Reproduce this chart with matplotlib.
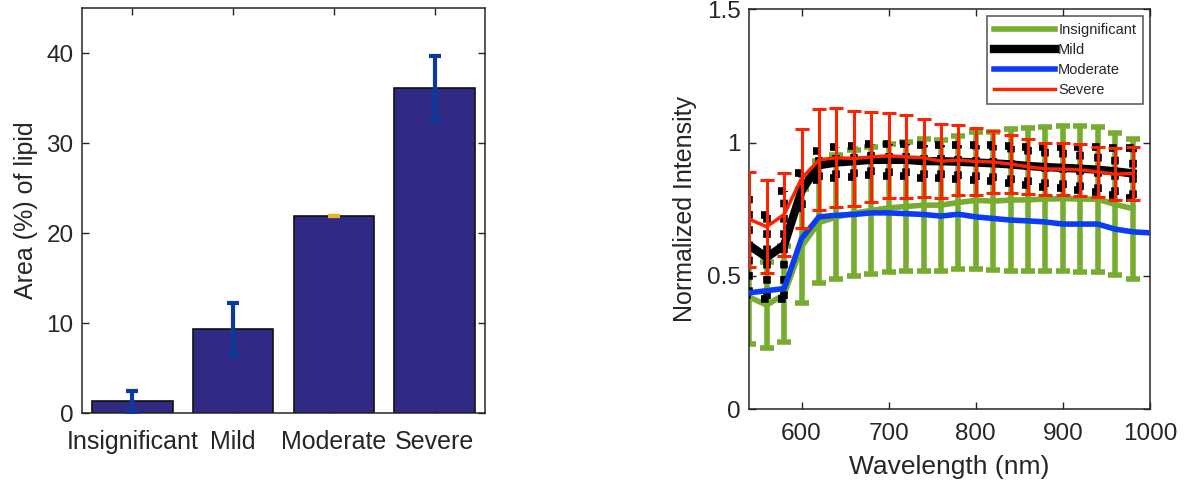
import numpy as np
import matplotlib
matplotlib.use("Agg")
import matplotlib.pyplot as plt

plt.rcParams['font.family'] = ['Liberation Sans', 'DejaVu Sans']
plt.rcParams['text.color'] = '#262626'
plt.rcParams['axes.labelcolor'] = '#262626'
plt.rcParams['xtick.color'] = '#262626'
plt.rcParams['ytick.color'] = '#262626'
plt.rcParams['axes.edgecolor'] = '#262626'

# lipid area per grade
grades = ['Insignificant', 'Mild', 'Moderate', 'Severe']
area = [1.3, 9.3, 21.9, 36.1]
area_err = [1.2, 2.9, 0.0, 3.6]

# mean spectra, 20 nm sampling
wl = [540, 560, 580, 600, 620, 640, 660, 680, 700, 720, 740, 760,
      780, 800, 820, 840, 860, 880, 900, 920, 940, 960, 980]
wl_moderate = wl + [1000]

insig = [0.42, 0.39, 0.43, 0.61, 0.70, 0.72, 0.735, 0.745, 0.755, 0.76, 0.765, 0.765,
         0.775, 0.783, 0.78, 0.784, 0.785, 0.788, 0.789, 0.788, 0.787, 0.768, 0.752]
insig_err = [0.176, 0.162, 0.18, 0.214, 0.229, 0.233, 0.236, 0.239, 0.24, 0.243, 0.248, 0.246,
             0.25, 0.258, 0.26, 0.265, 0.268, 0.271, 0.272, 0.273, 0.272, 0.266, 0.263]

mild = [0.614, 0.569, 0.615, 0.82, 0.915, 0.925, 0.93, 0.935, 0.935, 0.935, 0.93, 0.93,
        0.928, 0.925, 0.922, 0.918, 0.912, 0.908, 0.905, 0.902, 0.898, 0.892, 0.884]
mild_err = [0.187, 0.158, 0.204, 0.066, 0.055, 0.058, 0.058, 0.058, 0.06, 0.06, 0.062, 0.062,
            0.064, 0.066, 0.068, 0.07, 0.072, 0.074, 0.077, 0.08, 0.084, 0.088, 0.094]

moderate = [0.436, 0.444, 0.452, 0.64, 0.721, 0.727, 0.73, 0.736, 0.736, 0.733, 0.73, 0.724,
            0.731, 0.721, 0.715, 0.709, 0.706, 0.702, 0.694, 0.694, 0.694, 0.675, 0.665, 0.661]

severe = [0.712, 0.684, 0.73, 0.865, 0.935, 0.943, 0.94, 0.946, 0.95, 0.946, 0.943, 0.93,
          0.934, 0.929, 0.927, 0.919, 0.909, 0.901, 0.9, 0.897, 0.89, 0.881, 0.884]
severe_err = [0.178, 0.175, 0.155, 0.185, 0.19, 0.185, 0.178, 0.169, 0.16, 0.156, 0.147, 0.14,
              0.132, 0.127, 0.118, 0.11, 0.104, 0.099, 0.098, 0.098, 0.094, 0.097, 0.1]

W, H = 1191, 488
fig = plt.figure(figsize=(W / 100, H / 100), dpi=100)


def matlab_axes(ax):
    ax.tick_params(direction='in', top=True, right=True, length=5, width=1, labelsize=17.5)
    ax.tick_params(axis='y', pad=6)
    for s in ax.spines.values():
        s.set_linewidth(1.1)


# left: bar chart
ax1 = fig.add_axes([82 / W, 75 / H, 403 / W, 405 / H])
pos = np.arange(1, len(grades) + 1)
ax1.bar(pos, area, width=0.8, color='#302a85', edgecolor='#111111', linewidth=1.2, zorder=2)
ecolors = ['#0b3a9e', '#0b3a9e', '#edb120', '#0b3a9e']
for p, a, e, c in zip(pos, area, area_err, ecolors):
    ax1.errorbar(p, a, yerr=e, fmt='none', ecolor=c, elinewidth=3, capsize=4, capthick=3, zorder=3)
ax1.set_xlim(0.5, 4.5)
ax1.set_ylim(0, 45)
ax1.set_yticks([0, 10, 20, 30, 40])
ax1.set_xticks(pos)
ax1.set_xticklabels(grades)
ax1.set_ylabel('Area (%) of lipid', fontsize=18, labelpad=6)
matlab_axes(ax1)
ax1.tick_params(axis='x', labelsize=18, pad=12)

# right: spectra
ax2 = fig.add_axes([749.3 / W, 79 / H, 400.7 / W, 399.7 / H])
wl_a = np.array(wl)

ax2.errorbar(wl, insig, yerr=insig_err, fmt='none', ecolor='#77ac30', elinewidth=4, capsize=5, capthick=4, zorder=2)
l_insig, = ax2.plot(wl, insig, color='#77ac30', lw=4, zorder=2, label='Insignificant')

# dotted error bars for the mild group, caps drawn as dotted stubs too
mild_a, mild_e = np.array(mild), np.array(mild_err)
eb = ax2.errorbar(wl, mild, yerr=mild_err, fmt='none', ecolor='k', elinewidth=5.5, capsize=0, zorder=3)
eb[2][0].set_linestyle((0, (1, 1)))
ax2.hlines(np.r_[mild_a + mild_e, mild_a - mild_e], np.r_[wl_a, wl_a] - 7, np.r_[wl_a, wl_a] + 7,
           colors='k', lw=5.5, linestyles=(0, (1, 0.8)), zorder=3)
l_mild, = ax2.plot(wl, mild, color='k', lw=6, zorder=3, label='Mild')

l_mod, = ax2.plot(wl_moderate, moderate, color='#0a3cf5', lw=4, zorder=4, label='Moderate')

ax2.errorbar(wl, severe, yerr=severe_err, fmt='none', ecolor='#ff2200', elinewidth=2.2, capsize=5, capthick=2.2, zorder=5)
l_sev, = ax2.plot(wl, severe, color='#ff2200', lw=2.5, zorder=5, label='Severe')

ax2.set_xlim(540, 1000)
ax2.set_ylim(0, 1.5)
ax2.set_xticks([600, 700, 800, 900, 1000])
ax2.set_yticks([0, 0.5, 1, 1.5])
ax2.set_yticklabels(['0', '0.5', '1', '1.5'])
ax2.set_xlabel('Wavelength (nm)', fontsize=19, labelpad=7)
ax2.set_ylabel('Normalized Intensity', fontsize=18, labelpad=7)
matlab_axes(ax2)
ax2.tick_params(axis='x', pad=10)

leg = ax2.legend(handles=[l_insig, l_mild, l_mod, l_sev], loc='upper right', fontsize=10.5,
                 frameon=True, fancybox=False, edgecolor='#262626', handlelength=4.2,
                 handletextpad=0.2, labelspacing=0.4, borderaxespad=0.45, borderpad=0.5)
leg.get_frame().set_linewidth(1.1)

fig.savefig('out.png', dpi=100)
